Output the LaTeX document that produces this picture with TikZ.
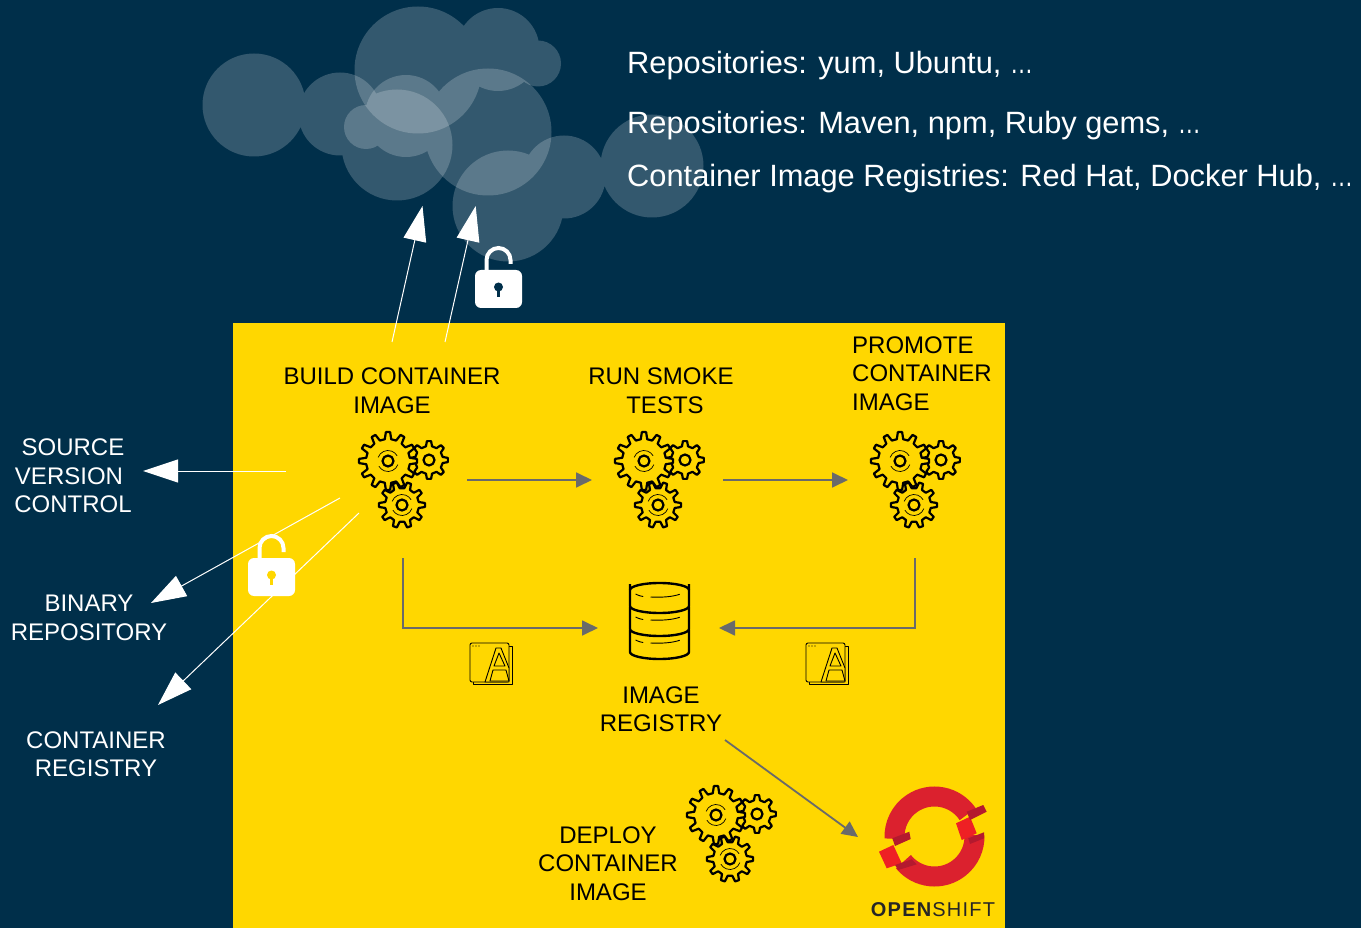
\documentclass[tikz,border=0pt]{standalone}
\usepackage{fontspec}
\setmainfont{Liberation Sans}
\usetikzlibrary{arrows.meta, positioning}

\definecolor{navy}{HTML}{002F4A}
\definecolor{signal}{HTML}{FFD700}
\definecolor{flowgray}{HTML}{6A6A6A}
\definecolor{ringred}{HTML}{DB212E}
\definecolor{tabred}{HTML}{EE2024}
\definecolor{stripred}{HTML}{B4192E}

% one cog: centre, teeth, outer radius, root radius, hole radius
\newcommand{\cogwheel}[5]{
  \begin{scope}[shift={#1}]
    \pgfmathsetmacro{\cogstep}{360/#2}
    \draw[cogline] ({-.28*\cogstep}:#4)
      \foreach \k in {1,...,#2} {
        -- ({(\k-1-.28)*\cogstep}:#4) -- ({(\k-1-.14)*\cogstep}:#3)
        -- ({(\k-1+.14)*\cogstep}:#3) -- ({(\k-1+.28)*\cogstep}:#4)
      } -- cycle;
    \draw[cogline] (0,0) circle (#5);
  \end{scope}
}
\newcommand{\cogarcs}[2]{
  \begin{scope}[shift={#1}]
    \draw[line width=.7pt] (200:#2) arc[start angle=200,end angle=330,radius=#2];
    \draw[line width=.7pt] (20:#2) arc[start angle=20,end angle=150,radius=#2];
  \end{scope}
}
\newcommand{\tightdots}{\scalebox{.75}[1]{…}}

\begin{document}
\begin{tikzpicture}[
    x=1pt, y=-1pt,
    cogline/.style={draw=black, line width=2.2pt, line join=round, fill=signal},
    onyellow/.style={text=black, font=\fontsize{24}{28.5}\selectfont, align=center, inner sep=0pt},
    onnavy/.style={text=white, font=\fontsize{24}{28.5}\selectfont, align=center, inner sep=0pt},
    reponote/.style={text=white, font=\fontsize{30.8}{36}\selectfont, anchor=west, inner sep=0pt},
    puff/.style={fill=white, opacity=.2},
    outflow/.style={draw=white, line width=1pt, -{Triangle[length=35pt,width=23pt]}},
    flow/.style={draw=flowgray, line width=1.8pt, -{Triangle[length=16pt,width=15pt]}},
    iconline/.style={draw=black, line width=.9pt, line join=round},
    cogs/.pic={
      \cogwheel{(41,-1)}{8}{19}{14}{5.5}
      \cogwheel{(0,0)}{12}{29}{22}{5.5}
      \cogwheel{(14,44)}{10}{23}{17}{5.5}
      \cogarcs{(0,0)}{10.5}
      \cogarcs{(14,44)}{10.5}
    },
    padlock/.pic={
      \draw[white, line width=4pt] (-12,-19) -- (-12,-29) arc[start angle=180,end angle=360,radius=12] -- (12,-25);
      \fill[white, rounded corners=6pt] (-23.5,-19) rectangle (23.5,19);
      \fill[pic actions] (0,-2) circle (4.5);
      \fill[pic actions] (-1.7,-1) rectangle (1.7,8);
    },
    imagedoc/.pic={
      \draw[iconline, fill=signal] (3,3) -- (42,3) -- (42,41) -- (3,41) -- cycle;
      \draw[iconline, fill=signal, rounded corners=2pt] (0,0) -- (39,0) -- (39,39) -- (0,39) -- cycle;
      \draw[iconline, fill=signal] (15,39) -- (26,5) -- (31,5) -- (39,25) -- (39,39) -- cycle;
      \draw[iconline] (29,10) -- (24,23) -- (35,23) -- cycle;
      \draw[iconline] (23,27) -- (36,27) -- (39,38) -- (20,38) -- cycle;
      \fill[black] (3,3) circle (.7) (6,3) circle (.7) (9,3) circle (.7);
    },
    dbtier/.pic={
      \draw[iconline, line width=2.4pt] (-29.5,-6) -- (-29.5,16) arc[start angle=180,end angle=0,x radius=29.5,y radius=7] -- (29.5,-6);
      \draw[iconline] (-24,4) arc[start angle=160,end angle=130,x radius=26,y radius=6];
      \draw[iconline] (-9,7) arc[start angle=105,end angle=30,x radius=26,y radius=6];
    }
]
\useasboundingbox (0,0) rectangle (1361,928);
\fill[navy] (0,0) rectangle (1361,928);

% --- Clouds ---
\fill[puff] (254,105) circle (51.5) (340,114) circle (41.5) (397,145) circle (55.5);
\fill[puff] (418,70) circle (63.5) (498,49.5) circle (41.5) (538,63.5) circle (23);
\fill[puff] (366,127) circle (22) (406,116) circle (41) (488,132) circle (63.5);
\fill[puff] (508,206) circle (55.5) (564,177) circle (41.5) (652,166) circle (51.5);

% --- Repository notes ---
\node[reponote] (osrepos) at (627,66) {Repositories: yum, Ubuntu, \tightdots};
\node[reponote] (librepos) at (627,126) {Repositories: Maven, npm, Ruby gems, \tightdots};
\node[reponote] (imagerepos) at (627,179) {Container Image Registries: Red Hat, Docker Hub, \tightdots};

% --- Pipeline panel ---
\fill[signal] (233,323) rectangle (1005,928);

\node[onyellow] (build) at (392,390.5) {BUILD CONTAINER\\IMAGE};
\node[onyellow] (smoke) at (661,390.5) {RUN SMOKE\\\hspace{8pt}TESTS};
\node[onyellow, align=left, anchor=west] (promote) at (852,373.5) {PROMOTE\\CONTAINER\\IMAGE};
\node[onyellow] (registry) at (661,709) {IMAGE\\REGISTRY};
\node[onyellow] (deploy) at (608,863.5) {DEPLOY\\CONTAINER\\IMAGE};

\node[onnavy] (source) at (73,476) {SOURCE\\\hspace{-8pt}VERSION\\CONTROL};
\node[onnavy] (binary) at (89,618) {BINARY\\REPOSITORY};
\node[onnavy] (container) at (96,754) {CONTAINER\\REGISTRY};

\pic (buildcogs) at (388,461) {cogs};
\pic (smokecogs) at (644,461) {cogs};
\pic (promotecogs) at (900,461) {cogs};
\pic (deploycogs) at (716,815) {cogs};

% --- Image registry drum ---
\pic (tiera) at (659.5,636) {dbtier};
\pic (tierb) at (659.5,613) {dbtier};
\pic (tierc) at (659.5,590) {dbtier};
\draw[iconline, line width=2.4pt] (630,590) arc[start angle=180,end angle=360,x radius=29.5,y radius=7];

\pic (builddoc) at (470,643) {imagedoc};
\pic (promotedoc) at (806,643) {imagedoc};

% --- Flow arrows ---
\coordinate (buildout) at (467,480);
\coordinate (smokein) at (592,480);
\coordinate (smokeout) at (723,480);
\coordinate (promotein) at (848,480);
\coordinate (buildown) at (403,558);
\coordinate (buildcorner) at (403,628);
\coordinate (registryleft) at (598,628);
\coordinate (promotedown) at (915,558);
\coordinate (promotecorner) at (915,628);
\coordinate (registryright) at (719,628);
\coordinate (registryout) at (725,740);
\coordinate (shiftin) at (858,837);

\draw[flow] (buildout) -- (smokein);
\draw[flow] (smokeout) -- (promotein);
\draw[flow] (buildown) -- (buildcorner) -- (registryleft);
\draw[flow] (promotedown) -- (promotecorner) -- (registryright);
\draw[flow] (registryout) -- (shiftin);

% --- Arrows leaving the panel ---
\coordinate (upa) at (392,342);
\coordinate (cloudleft) at (422.5,206);
\coordinate (upb) at (445,342);
\coordinate (cloudright) at (475.7,206);
\coordinate (leftout) at (286,471);
\coordinate (sourcein) at (143,471);
\coordinate (binout) at (340,498);
\coordinate (binaryin) at (151,603);
\coordinate (contout) at (359,513);
\coordinate (containerin) at (158,705);

\draw[outflow] (upa) -- (cloudleft);
\draw[outflow] (upb) -- (cloudright);
\draw[outflow] (leftout) -- (sourcein);
\draw[outflow] (binout) -- (binaryin);
\draw[outflow] (contout) -- (containerin);

\pic[fill=navy] (cloudlock) at (498.5,289) {padlock};
\pic[fill=signal] (repolock) at (271.5,577) {padlock};

% --- OpenShift mark ---
\coordinate (ringcentre) at (934.5,836.5);
\draw[ringred, line width=20pt] (ringcentre) ++(-34:40) arc[start angle=-34,end angle=-183,radius=40];
\draw[ringred, line width=20pt] (ringcentre) ++(141:40) arc[start angle=141,end angle=-2,radius=40];
\fill[tabred] (956,823.3) -- (970,816.7) -- (976.7,833.3) -- (961.7,840) -- cycle;
\fill[tabred] (879,851.7) -- (893.3,845) -- (901.7,863.3) -- (886.7,868.3) -- cycle;
\fill[stripred] (966.7,811.7) -- (983.3,805) -- (986.7,811.7) -- (970,820) -- cycle;
\fill[stripred] (892.3,838.3) -- (909.3,831.7) -- (910.7,839) -- (895,846) -- cycle;
\fill[stripred] (895,865) -- (911.7,859.3) -- (916.7,864.3) -- (898.3,870) -- cycle;
\fill[stripred] (968.3,838.3) -- (984,832.3) -- (984,838.3) -- (970,844) -- cycle;
\node[text=black!85, font=\fontsize{20}{24}\selectfont\addfontfeature{LetterSpace=6}, inner sep=0pt] (openshift) at (933,909.5) {\textbf{OPEN}SHIFT};

\end{tikzpicture}
\end{document}
